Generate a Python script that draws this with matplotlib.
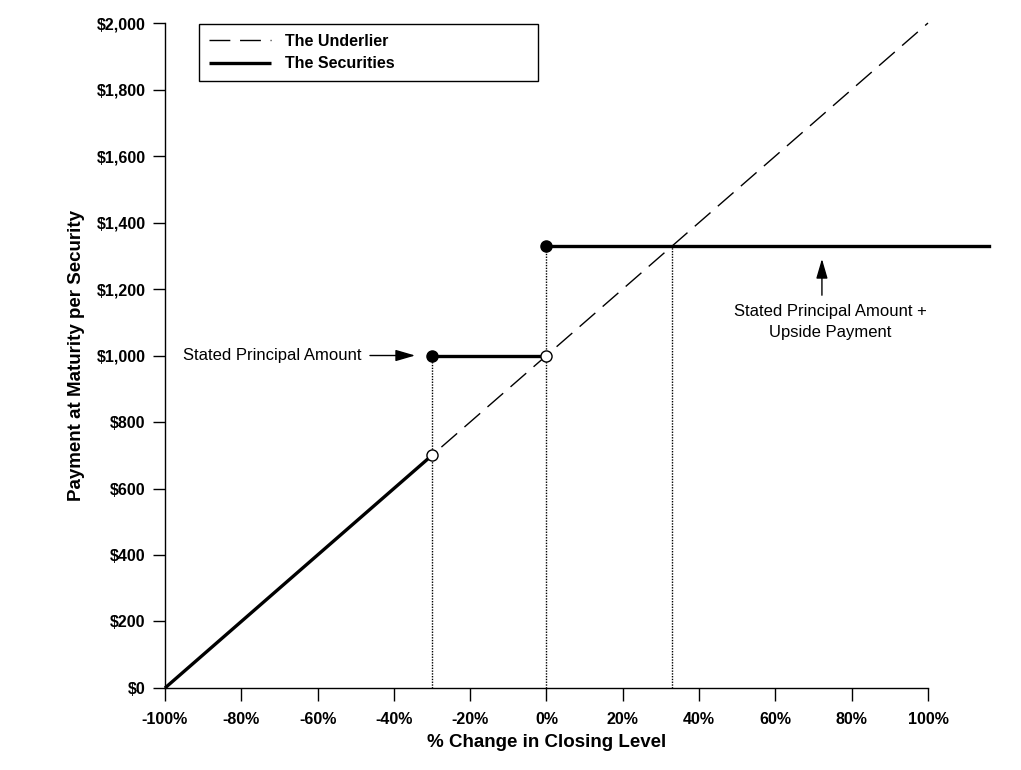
import numpy as np
import matplotlib
matplotlib.use('Agg')
from matplotlib import pyplot as plt
from matplotlib.ticker import FuncFormatter

plt.rcParams['font.family'] = ['Liberation Sans', 'DejaVu Sans']

# payoff data (% change vs. payment per security)
underlier_x = [-100, 100]
underlier_y = [0, 2000]

sec_x1 = [-100, -30]
sec_y1 = [0, 700]
sec_x2 = [-30, 0]
sec_y2 = [1000, 1000]
sec_x3 = [0, 116]
sec_y3 = [1330, 1330]

closed_x = [-30, 0]
closed_y = [1000, 1330]
open_x = [-30, 0]
open_y = [700, 1000]

drop_x = [-30, 0, 33]
drop_top = [1000, 1330, 1330]

xticks = np.arange(-100, 101, 20)
yticks = np.arange(0, 2001, 200)

fig = plt.figure(figsize=(10.21, 7.70), dpi=100)
ax = fig.add_axes([0.1616, 0.1065, 0.9089 - 0.1616, 0.9701 - 0.1065])

ax.plot(underlier_x, underlier_y, color='black', lw=1.0, dashes=(15, 7),
        label='The Underlier', clip_on=False, zorder=2)
ax.plot(sec_x1, sec_y1, color='black', lw=2.4, label='The Securities',
        clip_on=False, zorder=3, solid_capstyle='butt')
ax.plot(sec_x2, sec_y2, color='black', lw=2.4, clip_on=False, zorder=3)
ax.plot(sec_x3, sec_y3, color='black', lw=2.4, clip_on=False, zorder=3)

for x, top in zip(drop_x, drop_top):
    ax.plot([x, x], [0, top], color='black', lw=1.0, linestyle=(0, (1, 1)), zorder=1)

ax.plot(closed_x, closed_y, 'o', color='black', ms=8, zorder=5, clip_on=False)
ax.plot(open_x, open_y, 'o', mfc='white', mec='black', mew=1.0, ms=8, zorder=5)

ax.annotate('', xy=(-33.7, 1000), xytext=(-47, 1000),
            arrowprops=dict(arrowstyle='-|>,head_length=1.2,head_width=0.35',
                            color='black', lw=1.0))
ax.text(-48.5, 1000, 'Stated Principal Amount', ha='right', va='center', fontsize=12)

ax.annotate('', xy=(72.2, 1299), xytext=(72.2, 1173),
            arrowprops=dict(arrowstyle='-|>,head_length=1.2,head_width=0.35',
                            color='black', lw=1.0))
ax.text(74.3, 1101, 'Stated Principal Amount +\nUpside Payment', ha='center', va='center',
        fontsize=12, linespacing=1.45)

ax.set_xlim(-100, 100)
ax.set_ylim(0, 2000)
ax.set_xticks(xticks)
ax.set_yticks(yticks)
ax.xaxis.set_major_formatter(FuncFormatter(lambda v, p: '{:.0f}%'.format(v)))
ax.yaxis.set_major_formatter(FuncFormatter(lambda v, p: '${:,.0f}'.format(v)))
for lab in ax.get_xticklabels() + ax.get_yticklabels():
    lab.set_fontweight('bold')
    lab.set_fontsize(11.5)
ax.tick_params(axis='both', direction='out', length=9, width=1.0, pad=5)
ax.tick_params(axis='x', pad=8)

ax.spines['top'].set_visible(False)
ax.spines['right'].set_visible(False)
ax.spines['left'].set_linewidth(1.0)
ax.spines['bottom'].set_linewidth(1.0)

ax.set_xlabel('% Change in Closing Level', fontsize=13.5, fontweight='bold', labelpad=5)
ax.set_ylabel('Payment at Maturity per Security', fontsize=13.5, fontweight='bold', labelpad=8)

leg = ax.legend(loc='upper left', bbox_to_anchor=(0.0446, 0.0, 0.444, 0.998),
                mode='expand', borderaxespad=0, fancybox=False, edgecolor='black',
                framealpha=1, handlelength=3.9, handletextpad=0.9, borderpad=0.6,
                labelspacing=0.45, prop={'weight': 'bold', 'size': 11.5})
leg.get_frame().set_linewidth(1.0)

fig.savefig('out.png', dpi=100)
